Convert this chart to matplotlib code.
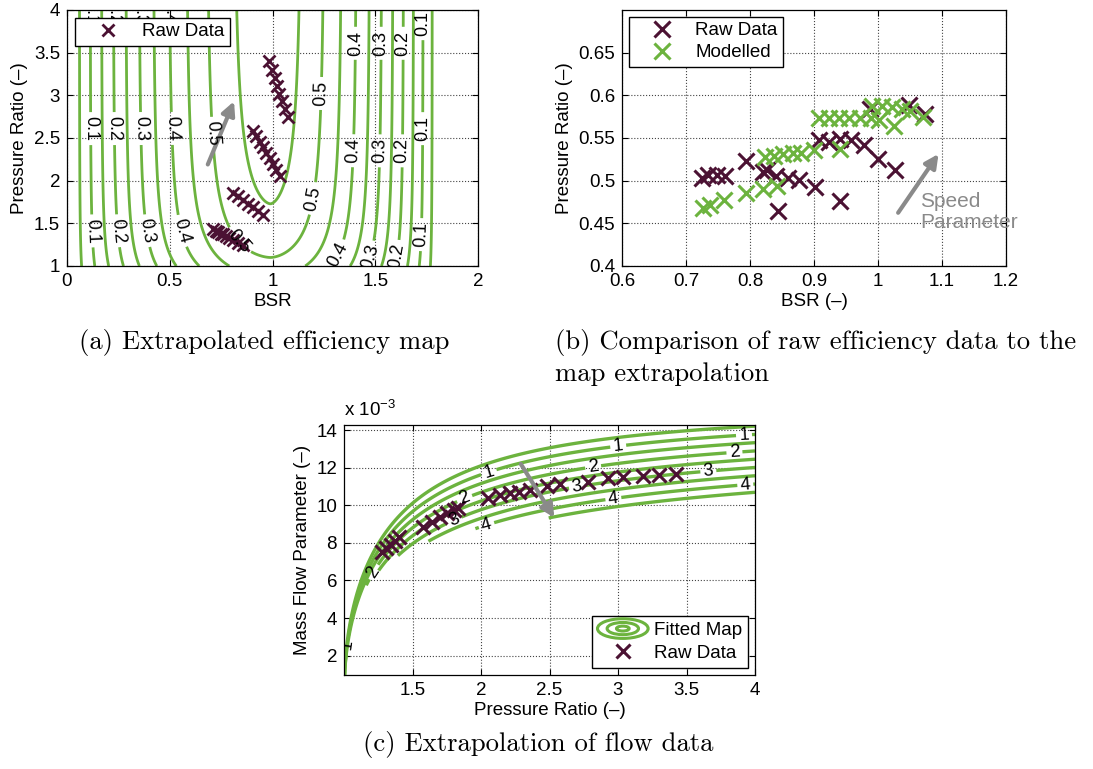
import numpy as np
import matplotlib
matplotlib.use('Agg')
import matplotlib.pyplot as plt
from matplotlib.ticker import FuncFormatter
from matplotlib.legend_handler import HandlerBase
from matplotlib.patches import Ellipse
from matplotlib.lines import Line2D

plt.rcParams['font.family'] = ['Liberation Sans', 'DejaVu Sans']
plt.rcParams['font.size'] = 13.5
plt.rcParams['mathtext.fontset'] = 'custom'
plt.rcParams['mathtext.rm'] = 'Liberation Sans'
plt.rcParams['mathtext.it'] = 'Liberation Sans:italic'

MAROON = '#4b1233'
GREEN = '#6cb33e'
GREY = '#8a8a8a'

# ---- (a) efficiency map: raw data ----
bsr_raw_a = [0.985, 0.998, 1.010, 1.022, 1.034, 1.047, 1.060, 1.075,
             0.905, 0.921, 0.937, 0.953, 0.970, 0.986, 1.003, 1.019, 1.035,
             0.810, 0.834, 0.858, 0.882, 0.906, 0.930, 0.955,
             0.712, 0.725, 0.735, 0.748, 0.760, 0.775, 0.790, 0.810, 0.830, 0.855]
pr_raw_a = [3.40, 3.30, 3.20, 3.11, 3.02, 2.93, 2.84, 2.75,
            2.58, 2.52, 2.45, 2.39, 2.32, 2.26, 2.19, 2.13, 2.06,
            1.86, 1.82, 1.77, 1.73, 1.69, 1.64, 1.60,
            1.43, 1.41, 1.40, 1.38, 1.37, 1.35, 1.33, 1.30, 1.27, 1.25]

# fitted efficiency map parameters
eff_plain = [0.05, 0.15, 0.25, 0.35, 0.45, 0.55]
eff_labelled = [0.1, 0.2, 0.3, 0.4, 0.5]
eta_cap, eta_pr_drop = 0.584, 0.1016
bsr_peak, width_left, width_right, shape_exp = 0.99, 0.98, 0.83, 1.7

# ---- (b) efficiency comparison ----
bsr_raw_b = [0.725, 0.735, 0.748, 0.761, 0.794, 0.821, 0.826, 0.840, 0.859, 0.876,
             0.902, 0.843, 0.940, 0.908, 0.924, 0.940, 0.958, 0.978, 1.000, 1.027,
             0.988, 1.049, 1.073]
eta_raw_b = [0.503, 0.507, 0.507, 0.505, 0.523, 0.510, 0.513, 0.505, 0.503, 0.501,
             0.492, 0.464, 0.476, 0.548, 0.545, 0.549, 0.548, 0.542, 0.525, 0.512,
             0.584, 0.589, 0.578]
bsr_mod_b = [0.727, 0.738, 0.759, 0.794, 0.821, 0.842, 0.823, 0.837, 0.852, 0.867,
             0.879, 0.900, 0.941, 0.908, 0.923, 0.939, 0.955, 0.972, 0.989, 1.002,
             1.025, 0.991, 1.006, 1.022, 1.037, 1.050, 1.071]
eta_mod_b = [0.468, 0.471, 0.477, 0.485, 0.490, 0.494, 0.528, 0.529, 0.531, 0.532,
             0.533, 0.536, 0.537, 0.573, 0.573, 0.573, 0.573, 0.573, 0.573, 0.571,
             0.564, 0.588, 0.588, 0.586, 0.584, 0.582, 0.575]

# ---- (c) flow map ----
pr_raw_c = [1.28, 1.31, 1.34, 1.37, 1.40,
            1.58, 1.64, 1.70, 1.75, 1.80, 1.83,
            2.05, 2.14, 2.21, 2.28, 2.36, 2.48, 2.58,
            2.78, 2.93, 3.04, 3.18, 3.30, 3.42]
mfp_raw_c = [7.50, 7.70, 7.90, 8.10, 8.30,
             8.86, 9.12, 9.39, 9.57, 9.74, 9.83,
             10.37, 10.54, 10.63, 10.72, 10.81, 11.02, 11.11,
             11.26, 11.44, 11.52, 11.56, 11.61, 11.67]  # x 1e-3
flow_plain = [0.5, 1.5, 2.5, 3.5, 4.5]
flow_labelled = [1, 2, 3, 4]
mfp_top, mfp_step = 14.65, 0.88       # mfp at PR=4 per speed level
k_top, k_step = 1.4, 0.175            # curvature exponent per speed level
start_gap, start_growth = 0.16, 1.56  # lower end of each speed line


def fmt_g(v, pos):
    return '%g' % v


def style_axes(ax):
    ax.tick_params(direction='in', top=True, right=True, length=4, width=0.8,
                   labelsize=13.5, pad=5)
    ax.xaxis.set_major_formatter(FuncFormatter(fmt_g))
    ax.yaxis.set_major_formatter(FuncFormatter(fmt_g))
    ax.grid(True, linestyle=':', color='#444444', linewidth=0.8)
    for s in ax.spines.values():
        s.set_linewidth(0.9)


class ContourHandler(HandlerBase):
    def create_artists(self, legend, orig_handle, xdescent, ydescent, width,
                       height, fontsize, trans):
        cx = width / 2 - xdescent
        cy = height / 2 - ydescent
        arts = []
        for s in (1.0, 0.62, 0.25):
            arts.append(Ellipse((cx, cy), width * s, height * 1.5 * s, fill=False,
                                edgecolor=GREEN, lw=2.2, transform=trans))
        return arts


fig = plt.figure(figsize=(10.93, 7.69), dpi=100)

# ================= (a) =================
ax1 = fig.add_axes([67 / 1093, 1 - 266 / 769, 411 / 1093, 256 / 769])
bsr_g = np.linspace(0, 2, 400)
pr_g = np.linspace(1, 4, 300)
B, P = np.meshgrid(bsr_g, pr_g)
eta_max = eta_cap - eta_pr_drop / P ** 2
u = np.where(B < bsr_peak, (bsr_peak - B) / width_left, (B - bsr_peak) / width_right)
eta = eta_max * (1 - np.abs(u) ** shape_exp)
ax1.contour(B, P, eta, levels=eff_plain, colors=GREEN, linewidths=2.0)
cs1 = ax1.contour(B, P, eta, levels=eff_labelled, colors=GREEN, linewidths=2.0)
lab_a = [(0.106, 2.61), (0.21, 2.61), (0.34, 2.61), (0.485, 2.61), (0.675, 2.55),
         (0.112, 1.41), (0.235, 1.41), (0.38, 1.41), (0.558, 1.41), (0.834, 1.29),
         (0.104, 3.97), (0.217, 3.97), (0.347, 3.97), (0.488, 3.97),
         (1.70, 3.84), (1.40, 3.61), (1.515, 3.61), (1.62, 3.61), (1.26, 3.02),
         (1.71, 2.61), (1.40, 2.35), (1.515, 2.35), (1.62, 2.35), (1.20, 1.79),
         (1.70, 1.37), (1.31, 1.14), (1.46, 1.12), (1.59, 1.12)]
ax1.clabel(cs1, manual=lab_a, inline=True, fmt='%.1f',
           fontsize=13, colors='black', inline_spacing=4)
ax1.plot(bsr_raw_a, pr_raw_a, 'x', color=MAROON, ms=9, mew=2, label='Raw Data')
ax1.annotate('', xy=(0.818, 2.96), xytext=(0.68, 2.16),
             arrowprops=dict(arrowstyle='-|>', color=GREY, lw=3, mutation_scale=20))
ax1.set_xlim(0, 2)
ax1.set_ylim(1, 4)
ax1.set_xticks([0, 0.5, 1, 1.5, 2])
ax1.set_yticks([1, 1.5, 2, 2.5, 3, 3.5, 4])
style_axes(ax1)
ax1.set_xlabel('BSR', labelpad=2)
ax1.set_ylabel('Pressure Ratio (–)', labelpad=4)
ax1.legend(loc='upper left', fancybox=False, edgecolor='black', framealpha=1,
           handlelength=3.0, handletextpad=0.3, borderpad=0.3, borderaxespad=0.4)

# ================= (b) =================
ax2 = fig.add_axes([622 / 1093, 1 - 266 / 769, 384 / 1093, 256 / 769])
ax2.plot(bsr_raw_b, eta_raw_b, 'x', color=MAROON, ms=11, mew=2.2, label='Raw Data')
ax2.plot(bsr_mod_b, eta_mod_b, 'x', color=GREEN, ms=11, mew=2.2, label='Modelled')
ax2.annotate('', xy=(1.097, 0.534), xytext=(1.029, 0.4597),
             arrowprops=dict(arrowstyle='-|>', color=GREY, lw=3, mutation_scale=20))
ax2.text(1.066, 0.4635, 'Speed\nParameter', color=GREY, ha='left', va='center',
         fontsize=15, linespacing=1.1)
ax2.set_xlim(0.6, 1.2)
ax2.set_ylim(0.4, 0.7)
ax2.set_xticks([0.6, 0.7, 0.8, 0.9, 1.0, 1.1, 1.2])
ax2.set_yticks([0.4, 0.45, 0.5, 0.55, 0.6, 0.65])
style_axes(ax2)
ax2.set_xlabel('BSR (–)', labelpad=2)
ax2.set_ylabel('Pressure Ratio (–)', labelpad=4)
ax2.legend(loc='upper left', fancybox=False, edgecolor='black', framealpha=1,
           handlelength=3.0, handletextpad=0.25, borderpad=0.3, borderaxespad=0.35,
           labelspacing=0.25)

# ================= (c) =================
ax3 = fig.add_axes([344 / 1093, 1 - 675 / 769, 411 / 1093, 250 / 769])
pr_c = np.linspace(1.0002, 4, 500)
lev_c = np.linspace(0.0125, 5.0125, 201)
PRc, Lc = np.meshgrid(pr_c, lev_c)
kc = k_top - k_step * (Lc - 0.5)
mfp_end = mfp_top - mfp_step * Lc
MFP = mfp_end * np.sqrt(1 - PRc ** -kc) / np.sqrt(1 - 4.0 ** -kc)
pr_start = np.where(Lc < 1.75, 1.0, 1 + start_gap * start_growth ** (2 * (Lc - 2)))
Zc = np.ma.masked_where(PRc < pr_start, Lc)
ax3.contour(PRc, MFP, Zc, levels=flow_plain, colors=GREEN, linewidths=2.4)
cs3 = ax3.contour(PRc, MFP, Zc, levels=flow_labelled, colors=GREEN, linewidths=2.4)
lab_c = [(3.92, 13.7), (3.0, 13.25), (2.05, 11.95), (1.03, 2.6),
         (3.85, 12.8), (2.82, 11.96), (1.88, 10.37), (1.30, 6.02),
         (3.66, 11.73), (2.70, 10.99), (1.81, 9.04),
         (3.93, 10.99), (2.965, 10.42), (2.04, 8.95)]
ax3.clabel(cs3, manual=lab_c, inline=True, fmt='%d',
           fontsize=13, colors='black', inline_spacing=3)
ax3.plot(pr_raw_c, mfp_raw_c, 'x', color=MAROON, ms=10, mew=2.2)
ax3.annotate('', xy=(2.546, 9.21), xytext=(2.28, 12.32),
             arrowprops=dict(arrowstyle='-|>', color=GREY, lw=3, mutation_scale=20))
ax3.set_xlim(1, 4)
ax3.set_ylim(0.97, 14.27)
ax3.set_xticks([1.5, 2, 2.5, 3, 3.5, 4])
ax3.set_yticks([2, 4, 6, 8, 10, 12, 14])
style_axes(ax3)
ax3.set_xlabel('Pressure Ratio (–)', labelpad=2)
ax3.set_ylabel('Mass Flow Parameter (–)', labelpad=4)
ax3.text(0.0, 1.02, 'x 10$^{-3}$', transform=ax3.transAxes, ha='left', va='bottom',
         fontsize=13.5)
map_proxy = Line2D([], [], color=GREEN)
raw_proxy = Line2D([], [], color=MAROON, marker='x', ls='none', ms=10, mew=2.2)
ax3.legend([map_proxy, raw_proxy], ['Fitted Map', 'Raw Data'], loc='lower right',
           handler_map={map_proxy: ContourHandler()}, fancybox=False,
           edgecolor='black', framealpha=1, handlelength=2.7, handletextpad=0.3,
           borderpad=0.3, borderaxespad=0.4, labelspacing=0.3)

# ---- captions ----
cap = dict(family='cmr10', fontsize=19.2, va='center')
fig.text(264 / 1093, 1 - 343 / 769, '(a) Extrapolated efficiency map', ha='center', **cap)
fig.text(555 / 1093, 1 - 343 / 769, '(b) Comparison of raw efficiency data to the',
         ha='left', **cap)
fig.text(555 / 1093, 1 - 374 / 769, 'map extrapolation', ha='left', **cap)
fig.text(538 / 1093, 1 - 745 / 769, '(c) Extrapolation of flow data', ha='center', **cap)

fig.savefig('out.png', dpi=100)
